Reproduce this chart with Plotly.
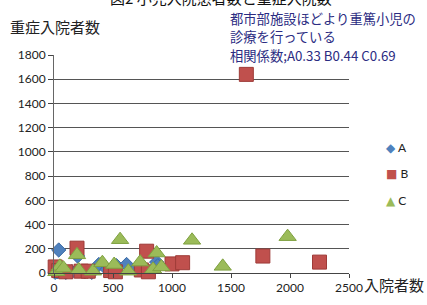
import plotly.graph_objects as go

# ---- data ----
a_x = [10, 30, 40, 60, 100, 150, 200, 260, 320, 380, 450, 530, 615, 700, 870, 880]
a_y = [5, 10, 190, 20, 5, 10, 140, 10, 5, 70, 30, 60, 70, 40, 90, 60]

b_x = [10, 40, 100, 195, 230, 290, 480, 520, 740, 785, 800, 1000, 1090, 1630, 1770, 2250]
b_y = [50, 20, 10, 205, 15, 15, 20, 10, 25, 180, 10, 75, 85, 1640, 140, 90]

c_x = [20, 50, 80, 195, 210, 330, 410, 510, 560, 630, 730, 840, 870, 910, 1170, 1430, 1980]
c_y = [10, 55, 40, 150, 25, 15, 85, 70, 275, 15, 90, 30, 165, 50, 270, 55, 300]

y_ticks = [0, 200, 400, 600, 800, 1000, 1200, 1400, 1600, 1800]
x_ticks = [0, 500, 1000, 1500, 2000, 2500]

series_names = ["A", "B", "C"]
series_colors = ["#4F81BD", "#C0504D", "#9BBB59"]
legend_glyphs = ["◆", "■", "▲"]

title_text = "図2 小児入院患者数と重症入院数"
y_title = "重症入院者数"
x_title = "入院者数"
note_lines = ["都市部施設ほどより重篤小児の", "診療を行っている", "相関係数;A0.33 B0.44 C0.69"]

W, H = 427, 305
L, R, T, B = 54, 78, 55, 32
PW, PH = W - L - R, H - T - B


def py(pix):
    """pixel row -> paper y"""
    return 1 + (T - pix) / PH


def px(pix):
    """pixel column -> paper x"""
    return (pix - L) / PW


fig = go.Figure()
fig.add_trace(go.Scatter(x=a_x, y=a_y, mode="markers", name="A", cliponaxis=False,
                         marker=dict(symbol="diamond", size=11, color=series_colors[0],
                                     line=dict(color="#3A6AA5", width=1))))
fig.add_trace(go.Scatter(x=b_x, y=b_y, mode="markers", name="B", cliponaxis=False,
                         marker=dict(symbol="square", size=14, color=series_colors[1],
                                     line=dict(color="#9E3B38", width=1))))
fig.add_trace(go.Scatter(x=c_x, y=c_y, mode="markers", name="C", cliponaxis=False,
                         marker=dict(symbol="triangle-up", size=15, color=series_colors[2],
                                     line=dict(color="#7FA140", width=1))))

tick_font = dict(family="Lato, 'Open Sans', sans-serif", size=12, color="#222")
fig.update_layout(
    width=W, height=H,
    margin=dict(l=L, r=R, t=T, b=B, autoexpand=False),
    paper_bgcolor="white", plot_bgcolor="white",
    showlegend=False,
    xaxis=dict(range=[0, 2500], tickvals=x_ticks, showgrid=False, zeroline=False,
               showline=True, linecolor="#444", linewidth=1, automargin=False,
               ticks="outside", ticklen=4, tickcolor="#444", tickfont=tick_font),
    yaxis=dict(range=[0, 1800], tickvals=y_ticks, showgrid=True, gridcolor="#555",
               gridwidth=1, zeroline=False, showline=True, linecolor="#666",
               linewidth=1, automargin=False, ticks="outside", ticklen=5,
               tickcolor="#444", tickfont=tick_font),
)

cjk = "'Noto Sans CJK JP', sans-serif"
fig.add_annotation(text=title_text, xref="paper", yref="paper", x=px(221), y=py(-2),
                   xanchor="center", yanchor="middle", showarrow=False,
                   font=dict(family=cjk, size=15, color="#111"))
fig.add_annotation(text=y_title, xref="paper", yref="paper", x=px(8), y=py(27),
                   xanchor="left", yanchor="middle", showarrow=False,
                   font=dict(family=cjk, size=15, color="#222"))
fig.add_annotation(text=x_title, xref="paper", yref="paper", x=px(362), y=py(284),
                   xanchor="left", yanchor="middle", showarrow=False,
                   font=dict(family=cjk, size=15, color="#222"))
for i, line in enumerate(note_lines):
    fig.add_annotation(text=line, xref="paper", yref="paper",
                       x=px(228), y=py(18 + 18.5 * i), xanchor="left",
                       yanchor="middle", align="left", showarrow=False,
                       font=dict(family=cjk, size=13.3, color="#2B2C82"))

# legend drawn as text entries
for i, (name, col, g) in enumerate(zip(series_names, series_colors, legend_glyphs)):
    fig.add_annotation(text=f"<span style='color:{col}'>{g}</span> {name}",
                       xref="paper", yref="paper", x=px(384), y=py(147 + 26.5 * i),
                       xanchor="left", yanchor="middle", showarrow=False,
                       font=dict(family="Lato, 'DejaVu Sans', sans-serif", size=12,
                                 color="#222"))

fig.write_html("out.html", config={"displayModeBar": False},
               post_script="document.body.style.margin='0';")
